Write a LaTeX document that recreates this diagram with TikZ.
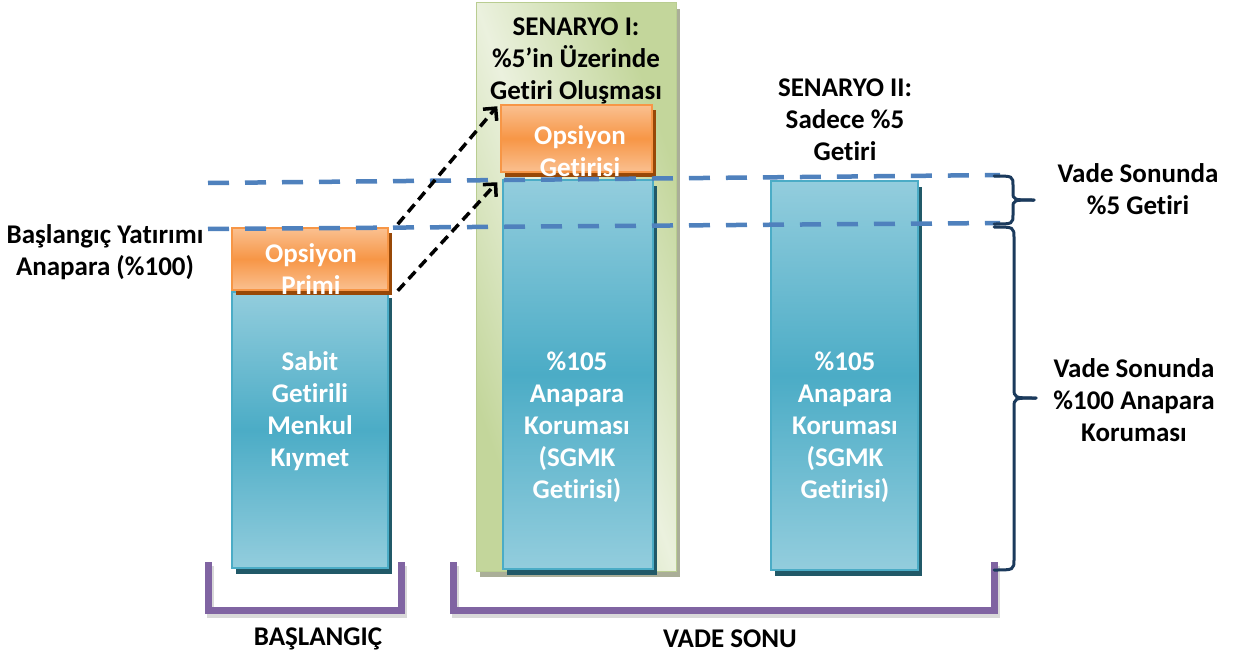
\documentclass[tikz,border=0pt]{standalone}
\usepackage{fontspec}
\setmainfont{Carlito}[Ligatures=NoCommon]
\usetikzlibrary{arrows.meta,shadows}
\definecolor{cBlueLight}{RGB}{147,205,221}
\definecolor{cBlueMid}{RGB}{75,172,198}
\definecolor{cBlueEdge}{RGB}{75,172,198}
\definecolor{cTeal}{RGB}{33,89,104}
\definecolor{cOrLight}{RGB}{250,192,144}
\definecolor{cOrMid}{RGB}{247,150,70}
\definecolor{cOrEdge}{RGB}{247,150,70}
\definecolor{cBrown}{RGB}{152,72,7}
\definecolor{cGreen}{RGB}{195,214,155}
\definecolor{cGreenLight}{RGB}{235,241,222}
\definecolor{cGreenEdge}{RGB}{185,205,145}
\definecolor{cGreenShadow}{RGB}{170,174,152}
\definecolor{cDash}{RGB}{79,129,189}
\definecolor{cPurple}{RGB}{128,100,162}
\definecolor{cNavy}{RGB}{27,58,92}
\tikzset{
  lbl/.style={font=\bfseries\fontsize{27}{32}\selectfont, align=center, inner sep=0pt},
  wlbl/.style={lbl, text=white},
  bluebox/.style={draw=cBlueEdge, line width=1.5pt, top color=cBlueLight, bottom color=cBlueLight, middle color=cBlueMid, inner sep=0pt,
    drop shadow={shadow xshift=4pt, shadow yshift=-6pt, fill=cTeal, opacity=1}},
  orbox/.style={draw=cOrEdge, line width=1.5pt, top color=cOrLight, bottom color=cOrLight, middle color=cOrMid, inner sep=0pt,
    drop shadow={shadow xshift=4pt, shadow yshift=-5pt, fill=cBrown, opacity=1}},
  leveldash/.style={draw=cDash, line width=4.5pt, dash pattern=on 21pt off 16pt},
  movearrow/.style={draw=black, line width=3.5pt, dash pattern=on 10pt off 6pt, -{Straight Barb[length=9pt,width=18pt]}},
  bracketline/.style={draw=cPurple, line width=7pt, line join=miter},
  bracketshadow/.style={draw=black, opacity=0.15, line width=7pt, line join=miter},
  bracestyle/.style={draw=cNavy, line width=3pt, line cap=round},
}
\begin{document}
\begin{tikzpicture}[x=1pt,y=-1pt]
\useasboundingbox (0,0) rectangle (1233,658);
\fill[white] (0,0) rectangle (1233,658);

% green scenario column
\fill[cGreenShadow] (480,9) rectangle (680,577);
\begin{scope}[transform canvas={shift={(476pt,-3pt)}, xscale=2.00, yscale=5.68}]
  \shade[top color=cGreen, bottom color=cGreen, middle color=cGreenLight, shading angle=-45] (0pt,0pt) rectangle (100pt,-100pt);
\end{scope}
\node[draw=cGreenEdge, line width=1pt, minimum width=200pt, minimum height=568pt, inner sep=0pt] (col) at (576,287) {};

% boxes
\node[bluebox, minimum width=156pt, minimum height=276pt] (sabit) at (310,430) {};
\node[orbox, minimum width=156pt, minimum height=62pt] (primi) at (310,259) {};
\node[bluebox, minimum width=150pt, minimum height=389pt] (mid) at (578,374.5) {};
\node[orbox, minimum width=151pt, minimum height=67pt] (getirisi) at (576.5,138.5) {};
\node[bluebox, minimum width=147pt, minimum height=389pt] (right) at (844.5,375.5) {};

% level dashed lines
\coordinate (u1) at (208,183); \coordinate (u2) at (1000,175);
\coordinate (l1) at (208,229); \coordinate (l2) at (1000,223);
\draw[leveldash] (u1) -- (u2);
\draw[leveldash] (l1) -- (l2);

% texts in boxes
\node[wlbl] (tPrimi) at (311,269) {Opsiyon\\Primi};
\node[wlbl] (tSabit) at (310,411) {Sabit\\Getirili\\Menkul\\Kıymet};
\node[wlbl] (tGet) at (580,151) {Opsiyon\\Getirisi};
\node[wlbl] (tMid) at (577,427) {\%105\\Anapara\\Koruması\\(SGMK\\Getirisi)};
\node[wlbl] (tRight) at (845,427) {\%105\\Anapara\\Koruması\\(SGMK\\Getirisi)};

% labels
\node[lbl] (sen1) at (576,61) {SENARYO I:\\\%5’in Üzerinde\\Getiri Oluşması};
\node[lbl] (sen2) at (845,120) {SENARYO II:\\Sadece \%5\\Getiri};
\node[lbl] (tBas) at (105,252) {Başlangıç Yatırımı\\Anapara (\%100)};
\node[lbl] (tV5) at (1138,189) {Vade Sonunda\\\%5 Getiri};
\node[lbl] (tV100) at (1134,400) {Vade Sonunda\\\%100 Anapara\\Koruması};
\node[lbl] (tBasl) at (318,639) {BAŞLANGIÇ};
\node[lbl] (tVade) at (730,639) {VADE SONU};

% arrows
\draw[movearrow] ([shift={(9,-3)}]primi.north east) -- ([shift={(-3,2)}]getirisi.north west);
\draw[movearrow] ([shift={(9,0)}]primi.south east) -- ([shift={(-5,3)}]mid.north west);

% purple brackets
\draw[bracketshadow] (210,566) -- (210,614) -- (403,614) -- (403,566);
\draw[bracketline] (208,562) -- (208,610) -- (401,610) -- (401,562);
\draw[bracketshadow] (455,566) -- (455,614) -- (996,614) -- (996,566);
\draw[bracketline] (453,562) -- (453,610) -- (994,610) -- (994,562);

% braces
\coordinate (b1t) at (994,176); \coordinate (b1b) at (994,224); \coordinate (b1tip) at (1034,200);
\draw[bracestyle] (b1t) .. controls (1013,176) .. (1013,186) -- (1013,192) .. controls (1013,200) .. (b1tip);
\draw[bracestyle] (b1b) .. controls (1013,224) .. (1013,214) -- (1013,208) .. controls (1013,200) .. (b1tip);
\coordinate (b2t) at (994,227); \coordinate (b2b) at (994,570); \coordinate (b2tip) at (1036,398);
\draw[bracestyle] (b2t) .. controls (1014,227) .. (1014,238) -- (1014,388) .. controls (1014,398) .. (b2tip);
\draw[bracestyle] (b2b) .. controls (1014,570) .. (1014,559) -- (1014,408) .. controls (1014,398) .. (b2tip);
\end{tikzpicture}
\end{document}
